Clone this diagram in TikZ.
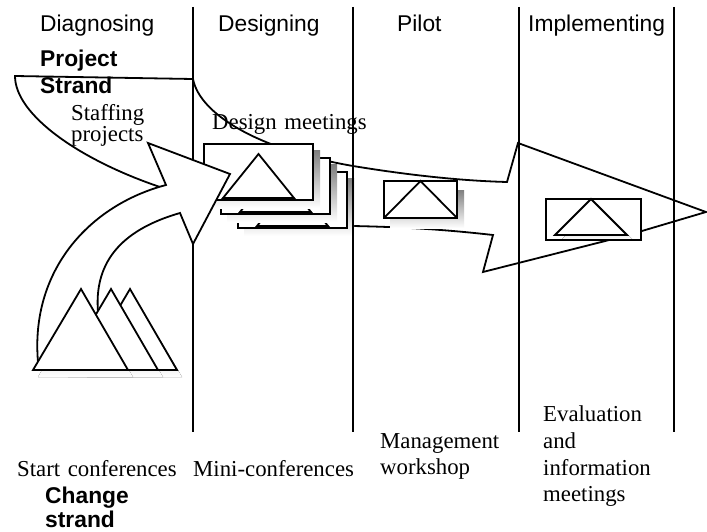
\documentclass[tikz,border=0pt]{standalone}
\usepackage{fontspec}
\setmainfont{Liberation Serif}
\setsansfont{Liberation Sans}
\definecolor{shade}{gray}{0.4}
\tikzset{
  outline/.style={draw=black, fill=white, line width=1.8pt, line join=miter},
  divider/.style={draw=black, line width=2.2pt},
  phase/.style={font=\sffamily\fontsize{22.8}{26.8}\selectfont, anchor=base west, inner sep=0pt},
  strandlabel/.style={font=\sffamily\bfseries\fontsize{22.8}{26.8}\selectfont, anchor=base west, inner sep=0pt, text width=120pt, align=left},
  event/.style={font=\rmfamily\fontsize{22.8}{26.8}\selectfont, anchor=base west, inner sep=0pt, text width=#1, align=left},
  event/.default=200pt,
  meeting/.pic={
    \fill[shade] (6,7) rectangle (116,64);
    \draw[outline] (0,0) rectangle (109,56);
    \draw[outline] (19,54) -- (54.5,10) -- (90,54) -- cycle;
  },
}
\begin{document}
\begin{tikzpicture}[x=1pt, y=-1pt]
\useasboundingbox (0,0) rectangle (707,532);
\fill[white] (0,0) rectangle (707,532);

% project strand: the long arrow running to the right
\draw[outline] (15,76) -- (193,79)
  .. controls (200,115) and (260,150) .. (353,166)
  .. controls (420,177) and (470,181) .. (507,182)
  -- (518,143) -- (706,212) -- (625,236) -- (483,272) -- (493,235)
  .. controls (440,229) and (400,227) .. (353,226)
  .. controls (280,222) and (200,205) .. (160,187)
  .. controls (80,160) and (15,115) .. (15,76) -- cycle;

% design meetings: stack of three sheets
\pic at (238,172) {meeting};
\pic at (221,158) {meeting};
\pic at (204,144) {meeting};

% pilot sheet
\fill[shade] (390,190) rectangle (464,228);
\draw[outline] (384,181) rectangle (457,218);
\draw[line width=1.8pt] (384,218) -- (420.5,181) -- (457,218);

% implementing sheet
\fill[white] (546,199) rectangle (641,240);
\fill[shade] (561,240) -- (597,204) -- (633,240) -- cycle;
\draw[outline] (555,235) -- (591,199) -- (627,235) -- cycle;
\draw[line width=1.8pt] (546,199) rectangle (641,240);

% phase dividers
\foreach \x in {193,353,519,674}
  \draw[divider] (\x,7) -- (\x,432);

% change strand: curved arrow rising from the mountains
\draw[outline] (38,362) .. controls (30,270) and (90,205) .. (166,185)
  -- (148,143) -- (230,174) -- (193,244) -- (180,213)
  .. controls (135,226) and (93,252) .. (98,312) -- (80,330) -- cycle;

% start conferences: three mountains
\foreach \b in {82,63,33}
  \fill[shade] (\b+5,377) -- (\b+52,296) -- (\b+100,377) -- cycle;
\foreach \b in {82,63,33}
  \draw[outline] (\b,370) -- (\b+48,289) -- (\b+95,370) -- cycle;

% labels
\node[phase] (diag) at (40,32) {Diagnosing};
\node[phase] (desi) at (218,32) {Designing};
\node[phase] (pilot) at (397,32) {Pilot};
\node[phase] (impl) at (528,32) {Implementing};

\node[strandlabel] (proj) at (40,67) {Project\\Strand};
\node[strandlabel, font=\sffamily\bfseries\fontsize{22.8}{24}\selectfont] (chg) at (45,503) {Change\\strand};

\node[event, font=\rmfamily\fontsize{22.8}{21}\selectfont] (staff) at (71,120.5) {Staffing\\projects};
\node[event] (dmeet) at (212,130) {Design meetings};
\node[event] (startc) at (17,476) {Start conferences};
\node[event] (minic) at (193,476) {Mini-conferences};
\node[event] (mgmt) at (380,448) {Management\\workshop};
\node[event] (evalm) at (543,421.5) {Evaluation\\and\\information\\meetings};
\end{tikzpicture}
\end{document}
